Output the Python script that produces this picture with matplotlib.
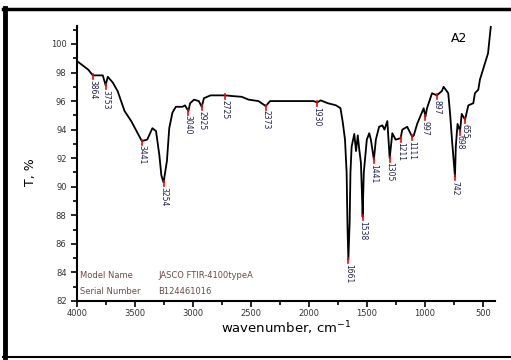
import numpy as np
import matplotlib.pyplot as plt
from matplotlib.lines import Line2D
from matplotlib.ticker import MultipleLocator

# FTIR spectrum (wavenumber in cm-1, transmittance)
wavenumber = [4000, 3903, 3864, 3830, 3778, 3753, 3735, 3692, 3650, 3590, 3533,
              3441, 3395, 3350, 3319, 3290, 3273, 3254, 3225, 3205, 3177, 3148,
              3091, 3070, 3040, 3025, 2991, 2950, 2925, 2906, 2849, 2780, 2725,
              2660, 2581, 2521, 2436, 2373, 2336, 2280, 2100, 1960, 1930, 1900,
              1838, 1767, 1729, 1709, 1690, 1676, 1668, 1661, 1650, 1643, 1633,
              1610, 1595, 1580, 1567, 1553, 1545, 1538, 1528, 1502, 1481, 1467,
              1441, 1424, 1396, 1368, 1350, 1325, 1305, 1282, 1254, 1211, 1196,
              1154, 1111, 1097, 1068, 1012, 997, 983, 940, 897, 870, 855, 840,
              800, 784, 768, 752, 742, 735, 720, 698, 684, 655, 627, 584, 570,
              541, 527, 457, 436, 400]
transmittance = [98.8, 98.2, 97.8, 97.8, 97.8, 97.1, 97.7, 97.3, 96.7, 95.3, 94.6,
                 93.2, 93.3, 94.1, 93.9, 92.2, 90.8, 90.3, 91.8, 94.1, 95.2, 95.6,
                 95.6, 95.7, 95.3, 95.85, 96.1, 96.0, 95.6, 96.2, 96.4, 96.4, 96.4,
                 96.35, 96.3, 96.1, 96.0, 95.65, 96.0, 96.0, 96.0, 96.0, 95.9, 96.05,
                 95.85, 95.7, 95.5, 94.5, 93.3, 91.0, 87.0, 84.9, 87.5, 91.0, 92.8,
                 93.7, 92.5, 93.6, 92.6, 91.7, 89.8, 87.9, 91.0, 93.3, 93.75, 93.3,
                 91.9, 93.3, 94.2, 94.3, 94.0, 94.6, 92.0, 93.75, 93.3, 93.4, 94.0,
                 94.2, 93.5, 93.6, 94.4, 95.5, 94.9, 95.5, 96.55, 96.4, 96.6, 96.7,
                 97.0, 96.55, 95.1, 93.3, 91.7, 90.7, 92.8, 94.4, 93.9, 95.1, 94.7,
                 95.7, 95.85, 96.55, 96.8, 97.5, 99.35, 101.0, 104.0]

peaks = [3864, 3753, 3441, 3254, 3040, 2925, 2725, 2373, 1930, 1661, 1538,
         1441, 1305, 1211, 1111, 997, 897, 742, 698, 655]

x_ticks = [4000, 3500, 3000, 2500, 2000, 1500, 1000, 500]
y_ticks = [100, 98, 96, 94, 92, 90, 88, 86, 84, 82]

fig = plt.figure(figsize=(5.11, 3.6), dpi=100)
ax = fig.add_axes([0.1507, 0.1639, 0.818, 0.764])

ax.plot(wavenumber, transmittance, color='black', lw=1.3)

wn_rev = np.array(wavenumber[::-1])
t_rev = np.array(transmittance[::-1])
label_color = '#20204a'
for p in peaks:
    t = np.interp(p, wn_rev, t_rev)
    ax.plot([p, p], [t + 0.1, t - 0.25], color='red', lw=1.2)
    ax.text(p, t - 0.3, str(p), rotation=270, ha='center', va='top',
            fontsize=5.5, color=label_color)

ax.set_xlim(4000, 397)
ax.set_ylim(82, 101.26)
ax.set_xticks(x_ticks)
ax.set_yticks(y_ticks)
ax.xaxis.set_minor_locator(MultipleLocator(250))
ax.yaxis.set_minor_locator(MultipleLocator(1))
ax.tick_params(which='both', direction='out', width=1.2, labelsize=6,
               labelcolor='#333333')
ax.tick_params(which='major', length=4)
ax.tick_params(which='minor', length=3)
ax.tick_params(axis='x', pad=2)
for s in ['top', 'right']:
    ax.spines[s].set_visible(False)
for s in ['left', 'bottom']:
    ax.spines[s].set_linewidth(1.5)

ax.set_xlabel('wavenumber, cm$^{-1}$', fontsize=9.5, labelpad=1)
ax.set_ylabel('T, %', fontsize=9, labelpad=4)
ax.yaxis.set_label_coords(-0.095, 0.47)
ax.text(0.915, 0.955, 'A2', transform=ax.transAxes, fontsize=9,
        ha='center', va='center')

info_color = '#6a4a48'
ax.text(0.008, 0.092, 'Model Name', transform=ax.transAxes, fontsize=6,
        color=info_color, va='center')
ax.text(0.195, 0.092, 'JASCO FTIR-4100typeA', transform=ax.transAxes,
        fontsize=6, color=info_color, va='center')
ax.text(0.008, 0.035, 'Serial Number', transform=ax.transAxes, fontsize=6,
        color=info_color, va='center')
ax.text(0.195, 0.035, 'B124461016', transform=ax.transAxes, fontsize=6,
        color=info_color, va='center')

# picture frame
fig.add_artist(Line2D([0.01, 0.01], [0.008, 0.978], color='black', lw=3.5))
fig.add_artist(Line2D([0.005, 1.0], [0.976, 0.976], color='black', lw=2.5))
fig.add_artist(Line2D([0.005, 1.0], [0.009, 0.009], color='black', lw=1.5))

fig.savefig('out.png', dpi=100)
